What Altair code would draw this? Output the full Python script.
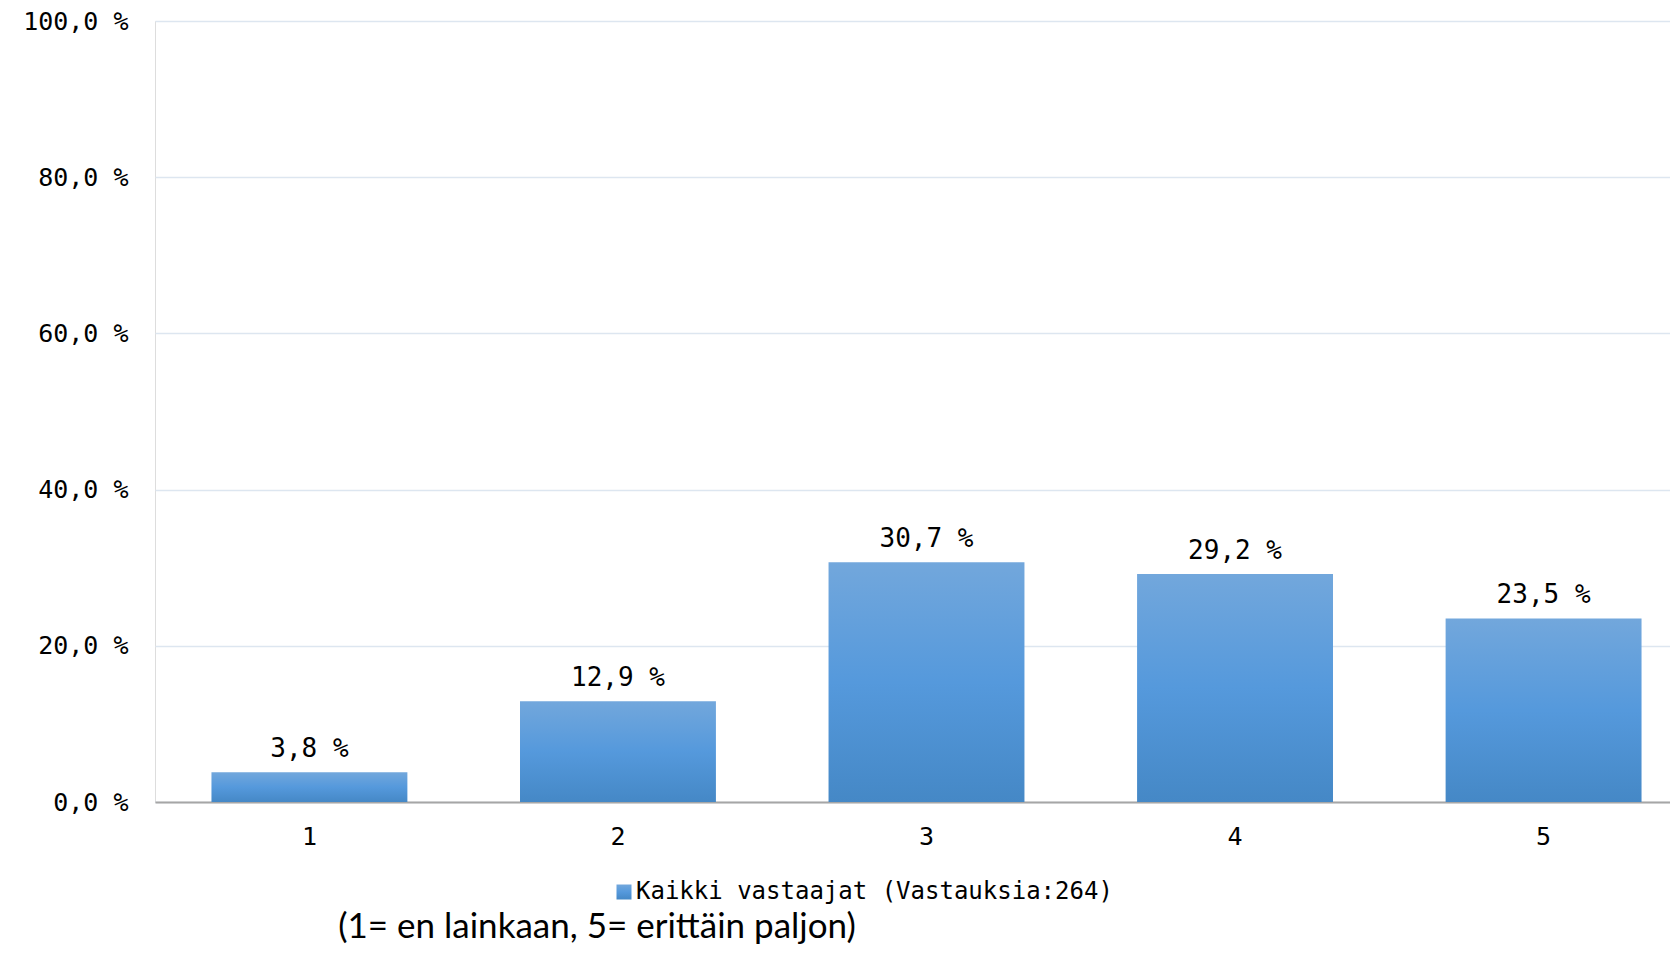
import altair as alt
import pandas as pd

categories = ["1", "2", "3", "4", "5"]
values = [3.8, 12.9, 30.7, 29.2, 23.5]
labels = ["3,8 %", "12,9 %", "30,7 %", "29,2 %", "23,5 %"]
series_name = "Kaikki vastaajat (Vastauksia:264)"
subtitle = "(1= en lainkaan, 5= erittäin paljon)"

df = pd.DataFrame({"cat": categories, "val": values, "lab": labels, "series": [series_name] * 5})
sub_df = pd.DataFrame({"t": [subtitle]})

MONO = "DejaVu Sans Mono"

gradient = alt.LinearGradient(
    gradient="linear",
    stops=[alt.GradientStop(color="#72a7dc", offset=0), alt.GradientStop(color="#5599dc", offset=0.5),
           alt.GradientStop(color="#4588c6", offset=1)],
    x1=0, x2=0, y1=0, y2=1,
)

x_enc = alt.X(
    "cat:N",
    sort=categories,
    scale=alt.Scale(range=[0, 1543], paddingInner=0.365, paddingOuter=0.183),
    axis=alt.Axis(title=None, labelAngle=0, tickSize=0, labelPadding=22, labelFont=MONO,
                  labelFontSize=25, labelColor="#000000", domainColor="#a6a6a6", domainWidth=2,
                  grid=False),
)
y_enc = alt.Y(
    "val:Q",
    scale=alt.Scale(domain=[0, 100], nice=False),
    axis=alt.Axis(title=None, values=[0, 20, 40, 60, 80, 100], tickSize=0, labelPadding=27,
                  labelFont=MONO, labelFontSize=25, labelColor="#000000", domain=False,
                  gridColor="#dde6f0", gridWidth=1.5,
                  labelExpr="replace(format(datum.value, '.1f'), '.', ',') + ' %'"),
)

bars = alt.Chart(df).mark_bar(fill=gradient, strokeWidth=0, strokeOpacity=0).encode(
    x=x_enc,
    y=y_enc,
    stroke=alt.Stroke(
        "series:N",
        scale=alt.Scale(range=["#5b9bd5"]),
        legend=alt.Legend(
            title=None, orient="none", legendX=457, legendY=859, symbolType="square",
            symbolSize=225, symbolFillColor="#5b9bd5", symbolStrokeWidth=0,
            labelFont=MONO, labelFontSize=24, labelColor="#000000", labelOffset=0,
            labelLimit=1000,
        ),
    ),
)

text = alt.Chart(df).mark_text(font=MONO, fontSize=26, color="#000000", baseline="alphabetic", dy=-15).encode(
    x=alt.X("cat:N", sort=categories),
    y=alt.Y("val:Q"),
    text="lab:N",
)

sub = alt.Chart(sub_df).mark_text(font="Lato", fontSize=35, color="#000000", align="center",
                                  baseline="alphabetic").encode(
    x=alt.value(442),
    y=alt.value(917),
    text="t:N",
)

chart = alt.layer(bars, text, sub).properties(
    width=1515, height=781,
    autosize=alt.AutoSizeParams(type="none"),
    padding={"left": 147, "top": 13, "right": 0, "bottom": 146},
).configure_view(stroke=None).configure(background="#ffffff")

chart.save("out.html", embed_options={"renderer": "svg", "actions": False})
